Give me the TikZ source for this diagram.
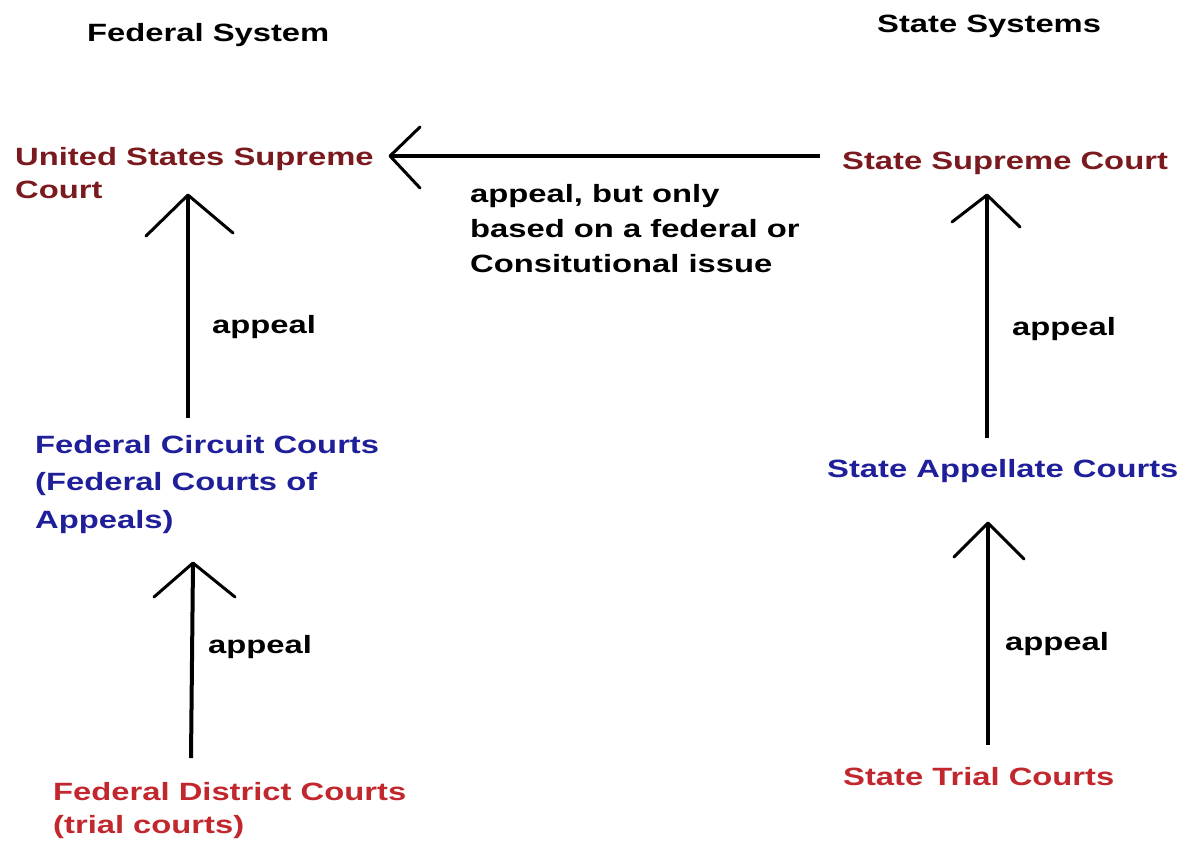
\documentclass[tikz,border=0pt]{standalone}
\usepackage{fontspec}
\setmainfont[FakeStretch=1.31]{Liberation Sans}
\definecolor{supred}{HTML}{7A1A1E}
\definecolor{midblue}{HTML}{1F1F9A}
\definecolor{trialred}{HTML}{C1272D}
\tikzset{
  lbl/.style={anchor=base west, inner sep=0pt, align=left, font=\fontsize{25}{35}\selectfont\bfseries},
  shaft/.style={line width=4pt, black},
  barb/.style={line width=3pt, black, line cap=round, line join=round}
}
\begin{document}
\begin{tikzpicture}[x=1pt,y=-1pt]
\useasboundingbox[fill=white] (0,0) rectangle (1180,843);
% headers
\node[lbl] (fedsys) at (87,42) {Federal System};
\node[lbl] (statesys) at (877,33) {State Systems};
% courts (base anchor = baseline of last line)
\node[lbl, text=supred, font=\fontsize{25}{33}\selectfont\bfseries] (ussc) at (15,198) {United States Supreme\\Court};
\node[lbl, text=supred] (ssc) at (842,169) {State Supreme Court};
\node[lbl] (fedq) at (470,272) {appeal, but only\\based on a federal or\\Consitutional issue};
\node[lbl, text=midblue, font=\fontsize{25}{37.5}\selectfont\bfseries] (fcc) at (35,528) {Federal Circuit Courts\\(Federal Courts of\\Appeals)};
\node[lbl, text=midblue] (sac) at (827,477) {State Appellate Courts};
\node[lbl, text=trialred, font=\fontsize{25}{33}\selectfont\bfseries] (fdc) at (53,833) {Federal District Courts\\(trial courts)};
\node[lbl, text=trialred] (stc) at (843,785) {State Trial Courts};
% appeal labels
\node[lbl] (ap1) at (212,333) {appeal};
\node[lbl] (ap2) at (208,653) {appeal};
\node[lbl] (ap3) at (1012,335) {appeal};
\node[lbl] (ap4) at (1005,650) {appeal};
% connector end points
\coordinate (hS) at (820,156);
\coordinate (hT) at (390,156);
\coordinate (a1S) at (188,418);
\coordinate (a1T) at (188,195);
\coordinate (a2S) at (191,758);
\coordinate (a2T) at (193,563);
\coordinate (a3S) at (987,438);
\coordinate (a3T) at (987,195);
\coordinate (a4S) at (988,745);
\coordinate (a4T) at (988,523);
% shafts
\draw[shaft] (hS) -- (hT);
\draw[shaft] (a1S) -- (a1T);
\draw[shaft] (a2S) -- (a2T);
\draw[shaft] (a3S) -- (a3T);
\draw[shaft] (a4S) -- (a4T);
% open barbs
\draw[barb] (420,127) -- (hT) -- (420,188);
\draw[barb] (146,236) -- (a1T) -- (233,233);
\draw[barb] (154,597) -- (a2T) -- (235,597);
\draw[barb] (952,222) -- (a3T) -- (1020,227);
\draw[barb] (954,557) -- (a4T) -- (1024,559);
\end{tikzpicture}
\end{document}
